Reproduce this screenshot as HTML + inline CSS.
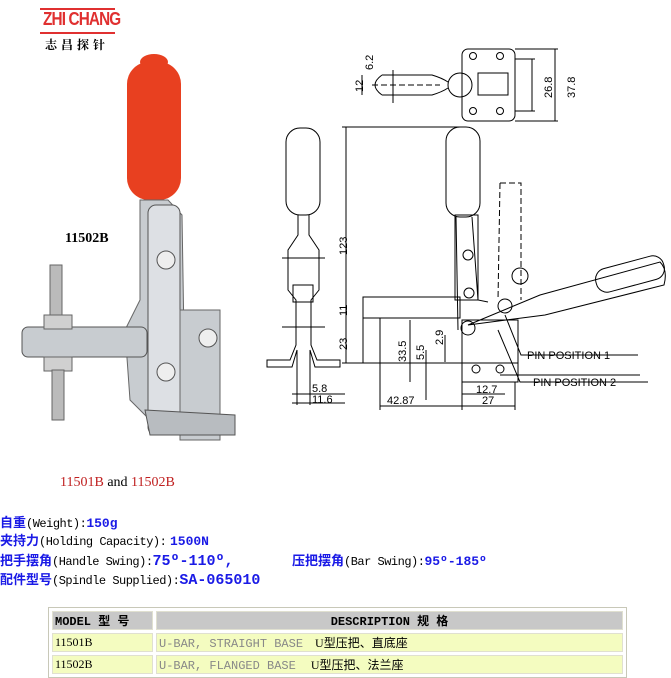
<!DOCTYPE html>
<html><head><meta charset="utf-8"><style>
body{margin:0;width:671px;height:675px;background:#fff;position:relative;overflow:hidden;font-family:"Liberation Sans","Noto Sans CJK SC",sans-serif}
.a{position:absolute;white-space:nowrap}
.info{font-size:13px;line-height:18px}
.cn{color:#1a1ae6;font-weight:bold;font-family:"Liberation Sans","Noto Sans CJK SC",sans-serif}
.en{font-family:"Liberation Mono",monospace;font-size:12px;color:#000;letter-spacing:-0.5px}
.v{color:#1a1ae6;font-weight:bold;font-family:"Liberation Mono",monospace}
table{position:absolute;left:48px;top:607px;width:579px;border-collapse:separate;border-spacing:3px;border:1px solid #c8c8b8;font-size:12px}
td{padding:0 2px;height:17px;border:1px solid #e0e0d0}
.h td{background:#c8c8c8;font-weight:bold;font-family:"Liberation Mono","Noto Sans CJK SC",monospace}
.r td{background:#f4fcc0;font-family:"Liberation Serif","Noto Sans CJK SC",serif}
</style></head><body>
<div class="a" style="left:40px;top:8px;width:75px;height:2px;background:#e03030"></div>
<div class="a" style="left:43px;top:9px;color:#e03030;font-weight:bold;font-size:18px;letter-spacing:-1px;transform:scaleX(0.85);transform-origin:left">ZHI CHANG</div>
<div class="a" style="left:40px;top:32px;width:75px;height:2px;background:#e03030"></div>
<div class="a" style="left:45px;top:36px;font-size:12px;font-weight:bold;letter-spacing:4px;font-family:'Noto Serif CJK SC',serif">志昌探针</div>

<svg class="a" style="left:0;top:0" width="671" height="500">
<!-- photo -->
<rect x="127" y="62" width="54" height="138" rx="22" fill="#e84020"/>
<ellipse cx="154" cy="62" rx="14" ry="8" fill="#e84020"/>
<path d="M140 200 L168 200 L182 215 L185 400 L150 420 L130 400 L125 330 L140 300 Z" fill="#c8ccd0" stroke="#666"/>
<rect x="148" y="205" width="32" height="230" rx="8" fill="#dde0e4" stroke="#555"/>
<rect x="180" y="310" width="40" height="130" fill="#c8ccd0" stroke="#666"/>
<path d="M145 410 L235 415 L235 435 L150 435 Z" fill="#b8bcc0" stroke="#555"/>
<rect x="22" y="327" width="125" height="30" rx="6" fill="#c8ccd0" stroke="#555"/>
<rect x="50" y="265" width="12" height="55" fill="#bbb" stroke="#666"/>
<rect x="44" y="315" width="28" height="14" fill="#d0d0d0" stroke="#666"/>
<rect x="44" y="357" width="28" height="14" fill="#d0d0d0" stroke="#666"/>
<rect x="52" y="370" width="12" height="50" fill="#bbb" stroke="#666"/>
<circle cx="166" cy="260" r="9" fill="#eee" stroke="#555"/>
<circle cx="166" cy="372" r="9" fill="#eee" stroke="#555"/>
<circle cx="208" cy="338" r="9" fill="#eee" stroke="#555"/>
<text x="65" y="242" font-family="Liberation Serif" font-weight="bold" font-size="14">11502B</text>
<g fill="none" stroke="#000" stroke-width="1" font-family="Liberation Sans" font-size="11">
<!-- top view -->
<rect x="462" y="49" width="53" height="72" rx="6"/>
<circle cx="473" cy="56" r="3.5"/><circle cx="500" cy="56" r="3.5"/><circle cx="473" cy="111" r="3.5"/><circle cx="500" cy="111" r="3.5"/>
<circle cx="460" cy="85" r="12"/>
<path d="M382 75 L432 75 Q442 78 448 82 M382 95 L432 95 Q442 92 448 88 M382 75 Q368 85 382 95"/>
<line x1="372" y1="85" x2="440" y2="85" stroke-dasharray="6,3"/>
<line x1="393" y1="70" x2="393" y2="103"/><line x1="362" y1="75" x2="362" y2="95"/>
<rect x="478" y="73" width="30" height="22"/>
<line x1="532" y1="59" x2="532" y2="111"/><line x1="555" y1="49" x2="555" y2="121"/>
<line x1="515" y1="59" x2="535" y2="59"/><line x1="515" y1="111" x2="535" y2="111"/>
<line x1="515" y1="49" x2="558" y2="49"/><line x1="515" y1="121" x2="558" y2="121"/>
<!-- side view -->
<rect x="286" y="128" width="34" height="87" rx="14"/>
<path d="M298 215 L298 235 L288 250 L288 290 L296 300 L296 345 L290 360 L267 360 L267 367 L292 367 L297 350 L297 405 M309 215 L309 235 L319 250 L319 290 L311 300 L311 345 L317 360 L340 360 L340 367 L315 367 L310 350 L310 405"/>
<rect x="293" y="285" width="20" height="17"/>
<line x1="282" y1="258" x2="325" y2="258"/><line x1="282" y1="327" x2="325" y2="327"/>
<line x1="292" y1="394" x2="345" y2="394"/><line x1="292" y1="403" x2="345" y2="403"/>
<!-- main view -->
<line x1="346" y1="127" x2="346" y2="363"/><line x1="342" y1="127" x2="465" y2="127"/>
<line x1="342" y1="363" x2="518" y2="363"/>
<rect x="446" y="127" width="34" height="90" rx="14"/>
<path d="M456 217 L458 330 M472 217 L478 300 L488 302"/>
<rect x="455" y="215" width="23" height="85"/>
<circle cx="468" cy="255" r="5"/><circle cx="469" cy="293" r="5"/>
<rect x="363" y="297" width="97" height="21"/><line x1="363" y1="297" x2="363" y2="363"/>
<path d="M462 320 L518 320 L518 382 L462 382 Z"/>
<circle cx="476" cy="369" r="4"/><circle cx="500" cy="369" r="4"/>
<circle cx="468" cy="328" r="7"/><circle cx="505" cy="306" r="7"/>
<path d="M468 325 L540 295 L660 262 Q668 270 664 285 L545 315 Z"/>
<rect x="595" y="262" width="70" height="24" rx="11" transform="rotate(-15 630 274)"/>
<path d="M500 183 L521 183 L521 300 M500 183 L498 300" stroke-dasharray="6,3"/>
<circle cx="520" cy="276" r="8"/>
<line x1="500" y1="375" x2="640" y2="375"/>
<path d="M505 315 L521 355 L638 355 M498 330 L520 382 L648 382"/>
<line x1="380" y1="406" x2="515" y2="406"/><line x1="462" y1="394" x2="505" y2="394"/>
<line x1="380" y1="318" x2="380" y2="410"/><line x1="462" y1="382" x2="462" y2="410"/><line x1="515" y1="382" x2="515" y2="410"/>
<line x1="410" y1="320" x2="410" y2="382"/><line x1="426" y1="350" x2="426" y2="400"/><line x1="445" y1="335" x2="445" y2="362"/>
</g>
<g font-family="Liberation Sans" font-size="11" fill="#000">
<text x="527" y="359">PIN  POSITION  1</text>
<text x="533" y="386">PIN  POSITION  2</text>
<text x="387" y="404">42.87</text><text x="482" y="404">27</text><text x="476" y="393">12.7</text>
<text x="312" y="392">5.8</text><text x="312" y="403">11.6</text>
<text transform="translate(347 255) rotate(-90)">123</text>
<text transform="translate(347 316) rotate(-90)">11</text>
<text transform="translate(347 350) rotate(-90)">23</text>
<text transform="translate(406 362) rotate(-90)">33.5</text>
<text transform="translate(424 360) rotate(-90)">5.5</text>
<text transform="translate(443 345) rotate(-90)">2.9</text>
<text transform="translate(552 98) rotate(-90)">26.8</text>
<text transform="translate(575 98) rotate(-90)">37.8</text>
<text transform="translate(373 70) rotate(-90)">6.2</text>
<text transform="translate(363 92) rotate(-90)">12</text>
</g>
</svg>

<div class="a" style="left:60px;top:475px;font-family:'Liberation Serif',serif;font-size:14px"><span style="color:#c02020">11501B</span> and <span style="color:#c02020">11502B</span></div>

<div class="a info" style="left:0;top:514px"><span class="cn">自重</span><span class="en">(Weight):</span><span class="v">150g</span></div>
<div class="a info" style="left:0;top:532px"><span class="cn">夹持力</span><span class="en">(Holding Capacity):</span> <span class="v">1500N</span></div>
<div class="a info" style="left:0;top:552px"><span class="cn">把手摆角</span><span class="en">(Handle Swing):</span><span class="v" style="font-size:15px">75º-110º,</span></div>
<div class="a info" style="left:292px;top:552px"><span class="cn">压把摆角</span><span class="en">(Bar Swing):</span><span class="v">95º-185º</span></div>
<div class="a info" style="left:0;top:571px"><span class="cn">配件型号</span><span class="en">(Spindle Supplied):</span><span class="v" style="font-size:15px">SA-065010</span></div>

<table>
<tr class="h"><td style="width:95px">MODEL  型 号</td><td style="text-align:center">DESCRIPTION    规  格</td></tr>
<tr class="r"><td>11501B</td><td><span style="color:#888;font-family:'Liberation Mono',monospace">U-BAR, STRAIGHT BASE</span>&nbsp;&nbsp;&nbsp;&nbsp;U型压把、直底座</td></tr>
<tr class="r"><td>11502B</td><td><span style="color:#888;font-family:'Liberation Mono',monospace">U-BAR, FLANGED BASE</span>&nbsp;&nbsp;&nbsp;&nbsp;&nbsp;U型压把、法兰座</td></tr>
</table>
</body></html>
